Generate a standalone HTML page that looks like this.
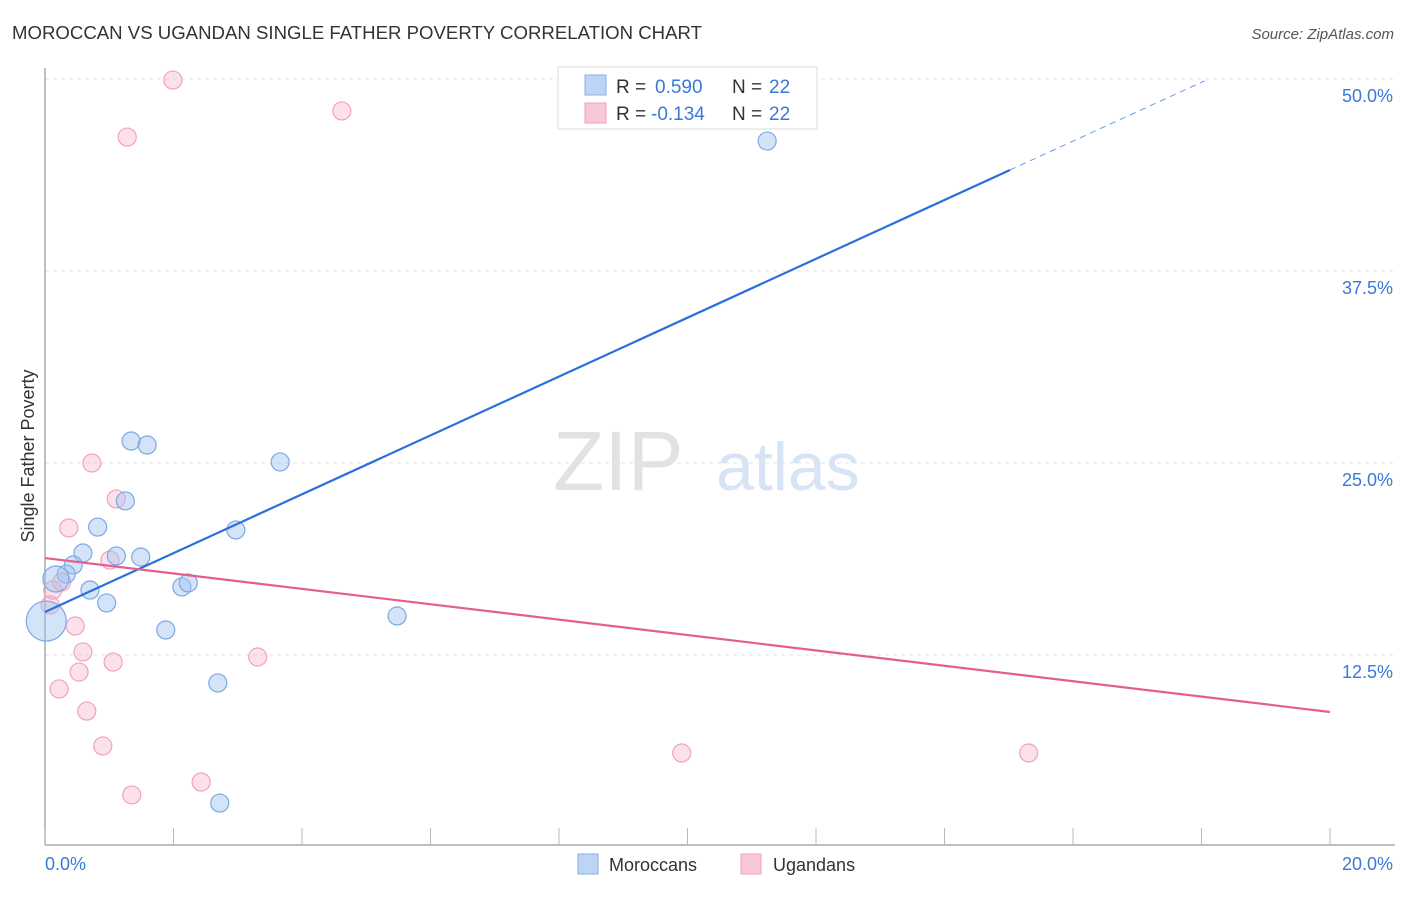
<!DOCTYPE html>
<html><head><meta charset="utf-8"><style>
body{margin:0;background:#fff;font-family:"Liberation Sans",sans-serif}
svg text{font-family:"Liberation Sans",sans-serif}
</style></head><body>
<svg id="c" width="1406" height="892" xmlns="http://www.w3.org/2000/svg">
<text x="12" y="39" font-size="18" fill="#333" textLength="690" lengthAdjust="spacingAndGlyphs">MOROCCAN VS UGANDAN SINGLE FATHER POVERTY CORRELATION CHART</text>
<text x="1394" y="39" font-size="15" fill="#555" text-anchor="end" font-style="italic">Source: ZipAtlas.com</text>
<text x="553" y="490" font-size="84" fill="#e2e2e2" font-family="Liberation Serif">ZIP</text>
<text x="716" y="490" font-size="68" fill="#d6e4f5">atlas</text>
<g id="grid"></g><g id="axes"></g><g id="pts"></g><g id="lines"></g>
<text transform="translate(34,456) rotate(-90)" font-size="18" fill="#333" text-anchor="middle">Single Father Poverty</text>
<text x="45" y="870" font-size="18" fill="#3b78d8">0.0%</text>
<text x="1393" y="870" font-size="18" fill="#3b78d8" text-anchor="end">20.0%</text>
<g>
<rect x="558" y="67" width="259" height="62" fill="#fff" stroke="#ddd"/>
<rect x="585" y="75" width="21" height="20" fill="#bcd4f5" stroke="#8ab0e6"/>
<rect x="585" y="103" width="21" height="20" fill="#f9c8d6" stroke="#f2a0b8"/>
<text x="616" y="93" font-size="19" fill="#333">R = </text><text x="655" y="93" font-size="19" fill="#3b78d8">0.590</text>
<text x="732" y="93" font-size="19" fill="#333">N = </text><text x="769" y="93" font-size="19" fill="#3b78d8">22</text>
<text x="616" y="120" font-size="19" fill="#333">R = </text><text x="651" y="120" font-size="19" fill="#3b78d8">-0.134</text>
<text x="732" y="120" font-size="19" fill="#333">N = </text><text x="769" y="120" font-size="19" fill="#3b78d8">22</text>
</g>
<g>
<rect x="578" y="854" width="20" height="20" fill="#bcd4f5" stroke="#8ab0e6"/>
<text x="609" y="871" font-size="18" fill="#333">Moroccans</text>
<rect x="741" y="854" width="20" height="20" fill="#f9c8d6" stroke="#f2a0b8"/>
<text x="773" y="871" font-size="18" fill="#333">Ugandans</text>
</g>
</svg>
<script>
const yTicks=[12.5,25,37.5,50];
const yTickLabels=["12.5%","25.0%","37.5%","50.0%"];
const xTickVals=[0,2,4,6,8,10,12,14,16,18,20];
const blueX=[11.24,1.34,1.59,3.66,1.25,2.97,0.82,0.59,1.11,1.49,0.44,0.33,0.17,0.70,2.13,2.23,0.96,5.48,1.88,2.69,2.72,0.02];
const blueY=[45.96,26.43,26.17,25.07,22.53,20.64,20.83,19.14,18.95,18.88,18.36,17.77,17.45,16.73,16.93,17.19,15.89,15.04,14.13,10.68,2.86,14.71];
const blueR=[9,9,9,9,9,9,9,9,9,9,9,9,13,9,9,9,9,9,9,9,9,20];
const pinkX=[1.99,4.62,1.28,0.73,0.37,1.11,1.01,0.26,0.12,0.08,0.47,0.59,1.06,0.53,0.22,0.65,0.90,1.35,2.43,3.31,9.91,15.31];
const pinkY=[49.93,47.92,46.22,25.0,20.77,22.66,18.68,17.25,16.73,15.76,14.39,12.70,12.04,11.39,10.29,8.85,6.58,3.39,4.23,12.37,6.12,6.12];
const blueTrend=[15.30,1.916];
const pinkTrend=[18.81,-0.501];
const sx=v=>45+v/20*1285, sy=v=>847-v/12.5*192;
const NS="http://www.w3.org/2000/svg";
function mk(t,a,p){const e=document.createElementNS(NS,t);for(const k in a)e.setAttribute(k,a[k]);document.getElementById(p).appendChild(e);return e;}
yTicks.forEach((v,i)=>{
 const l=mk('line',{x1:45,x2:1393,y1:sy(v),y2:sy(v),stroke:'#e3e3e3','stroke-dasharray':'4,4'},'grid');
 
 
 const t=mk('text',{x:1393,y:sy(v)+23,'font-size':18,fill:'#3b78d8','text-anchor':'end'},'grid');
 t.textContent=yTickLabels[i];
 
 
});
const ya=mk('line',{x1:45,x2:45,y1:68,y2:845,stroke:'#aaa','stroke-width':1.5},'axes');


const xa=mk('line',{x1:45,x2:1395,y1:845,y2:845,stroke:'#aaa','stroke-width':1.5},'axes');


xTickVals.forEach(v=>{
 const t=mk('line',{x1:sx(v),x2:sx(v),y1:828,y2:845,stroke:'#bbb'},'axes');
 
 
});
pinkX.forEach((x,i)=>{
 const c=mk('circle',{cx:sx(x),cy:sy(pinkY[i]),r:9,fill:'rgba(246,170,195,0.35)',stroke:'#f0a3bb','stroke-width':1.2},'pts');
 
 
});
blueX.forEach((x,i)=>{
 const c=mk('circle',{cx:sx(x),cy:sy(blueY[i]),r:blueR[i],fill:'rgba(160,195,240,0.45)',stroke:'#7ca8e4','stroke-width':1.2},'pts');
 
 
});
const f=(t,x)=>t[0]+t[1]*x;
const b1=mk('line',{x1:sx(0),y1:sy(f(blueTrend,0)),x2:sx(15.02),y2:sy(f(blueTrend,15.02)),stroke:'#2a6fdb','stroke-width':2.2},'lines');


const b2=mk('line',{x1:sx(15.02),y1:sy(f(blueTrend,15.02)),x2:sx(18.05),y2:sy(f(blueTrend,18.05)),stroke:'#2a6fdb','stroke-width':1,'stroke-dasharray':'6,5','opacity':0.7},'lines');


const p1=mk('line',{x1:sx(0),y1:sy(f(pinkTrend,0)),x2:sx(20),y2:sy(f(pinkTrend,20)),stroke:'#e55f8d','stroke-width':2.2},'lines');


</script>
</body></html>
